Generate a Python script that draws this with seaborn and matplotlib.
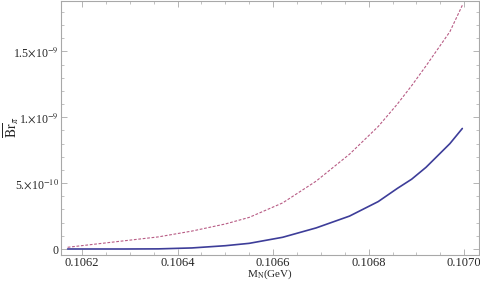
import pandas as pd
import matplotlib
matplotlib.use("Agg")
import matplotlib.pyplot as plt
import seaborn as sns
from matplotlib.ticker import MultipleLocator, FixedLocator

# -----------------------------
# DATA
# -----------------------------
mass = [0.10617, 0.10629, 0.10636, 0.10643, 0.10650, 0.10655, 0.10662,
        0.10669, 0.10676, 0.10682, 0.10686, 0.10689, 0.10692, 0.10697,
        0.106996]
br_solid = [0.000, 0.000, 0.001, 0.008, 0.025, 0.043, 0.089,
            0.160, 0.250, 0.360, 0.460, 0.530, 0.620, 0.800,
            0.915]   # x 1e-9
br_dashed = [0.013, 0.063, 0.092, 0.136, 0.190, 0.240, 0.350,
             0.515, 0.720, 0.930, 1.100, 1.240, 1.390, 1.650,
             1.850]  # x 1e-9

xticks = [0.1062, 0.1064, 0.1066, 0.1068, 0.1070]
xtick_labels = ["0.1062", "0.1064", "0.1066", "0.1068", "0.1070"]
yticks = [0, 5e-10, 1e-9, 1.5e-9]
ytick_labels = ["0", r"5.$\times$10$^{-10}$", r"1.$\times$10$^{-9}$",
                r"1.5$\times$10$^{-9}$"]

df = pd.DataFrame({
    "M": mass * 2,
    "Br": [v * 1e-9 for v in br_solid] + [v * 1e-9 for v in br_dashed],
    "curve": ["solid"] * len(mass) + ["dashed"] * len(mass),
})

# -----------------------------
# STYLE
# -----------------------------
sns.set_style("ticks")
plt.rcParams["font.family"] = ["Liberation Serif", "DejaVu Serif"]
plt.rcParams["mathtext.fontset"] = "stix"

fig = plt.figure(figsize=(4.8, 2.82), dpi=100)
ax = fig.add_axes([0.127, 0.096, 0.871, 0.902])

sns.lineplot(data=df, x="M", y="Br", hue="curve", style="curve",
             palette={"solid": (0.24, 0.24, 0.6), "dashed": (0.72, 0.36, 0.52)},
             dashes={"solid": "", "dashed": (2.5, 1.5)},
             legend=False, ax=ax)
ax.lines[0].set_linewidth(1.2)
ax.lines[1].set_linewidth(0.8)

ax.set_xlim(0.106156, 0.107031)
ax.set_ylim(-0.045e-9, 1.886e-9)

ax.xaxis.set_major_locator(FixedLocator(xticks))
ax.set_xticklabels(xtick_labels)
ax.xaxis.set_minor_locator(MultipleLocator(0.00005))
ax.yaxis.set_major_locator(FixedLocator(yticks))
ax.set_yticklabels(ytick_labels)
ax.yaxis.set_minor_locator(MultipleLocator(1e-10))

frame = "#a8a8a8"
for s in ax.spines.values():
    s.set_color(frame)
    s.set_linewidth(0.8)
ax.tick_params(which="both", direction="in", top=True, right=True,
               color=frame)
ax.tick_params(axis="x", pad=1.5, labelsize=9)
ax.tick_params(axis="y", pad=1.5, labelsize=8.5)
ax.tick_params(which="major", length=4, width=0.6)
ax.tick_params(which="minor", length=2, width=0.5)

ax.set_xlabel(r"M$_{\mathrm{N}}$(GeV)", fontsize=8)
ax.xaxis.set_label_coords(0.5, -0.051)
ax.set_ylabel(r"$\overline{\mathrm{Br}}_{\pi}$", fontsize=10)
ax.yaxis.set_label_coords(-0.095, 0.5)

fig.savefig("out.png", dpi=100)
